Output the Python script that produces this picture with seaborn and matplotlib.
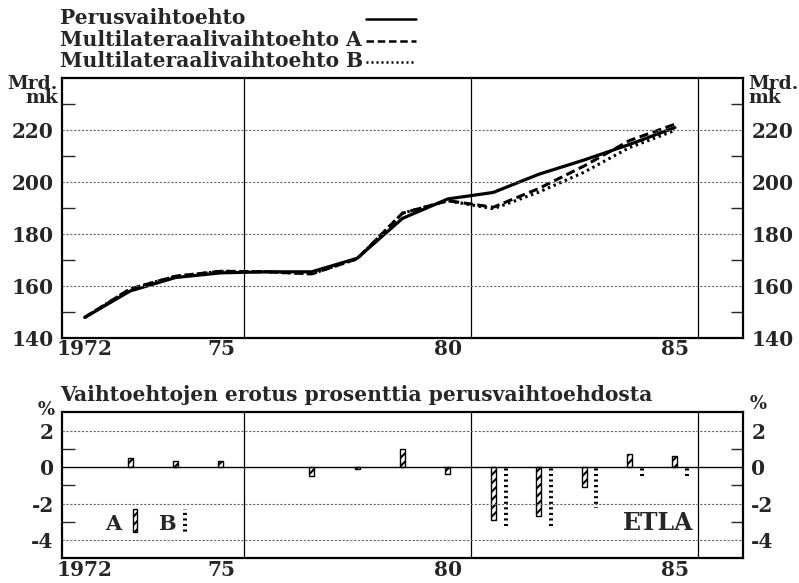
import numpy as np
import pandas as pd
import matplotlib
matplotlib.use('Agg')
import matplotlib.pyplot as plt
from matplotlib.patches import Rectangle
import seaborn as sns

# Arvot luettu kuvasta (Mrd. mk)
vuodet = [1972, 1973, 1974, 1975, 1976, 1977, 1978, 1979, 1980, 1981, 1982, 1983, 1984, 1985]
perus = [147.8, 158.0, 163.2, 165.0, 165.4, 165.4, 170.6, 186.0, 193.5, 196.0, 203.0, 208.5, 214.5, 221.0]
vaiht_a = [147.8, 158.8, 163.7, 165.6, 165.4, 164.6, 170.4, 188.0, 192.8, 190.3, 197.5, 206.2, 216.0, 222.3]
vaiht_b = [147.8, 158.8, 163.7, 165.6, 165.4, 164.6, 170.4, 188.0, 192.8, 189.7, 196.1, 203.8, 213.3, 219.9]

# Erotus prosenttia perusvaihtoehdosta
ero_a = [np.nan, 0.5, 0.32, 0.35, np.nan, -0.5, -0.1, 1.0, -0.36, -2.9, -2.7, -1.1, 0.69, 0.58]
ero_b = [np.nan] * 9 + [-3.24, -3.4, -2.25, -0.54, -0.5]

x_labels = ['1972', '75', '80', '85']
x_label_pos = [1972, 1975, 1980, 1985]

df = pd.DataFrame({'vuosi': vuodet, 'perus': perus, 'a': vaiht_a, 'b': vaiht_b,
                   'ero_a': ero_a, 'ero_b': ero_b})

sns.set_style('white')
plt.rcParams['font.family'] = ['DejaVu Serif']
plt.rcParams['hatch.linewidth'] = 1.5

fig = plt.figure(figsize=(7.99, 5.83), dpi=100)
W, H = 799, 583
ax1 = fig.add_axes([62 / W, 1 - 337.7 / H, (743 - 62) / W, (337.7 - 78.3) / H])
ax2 = fig.add_axes([62 / W, 1 - 558.3 / H, (743 - 62) / W, (558.3 - 412.3) / H])

# ylempi kuva: viivat
sns.lineplot(data=df, x='vuosi', y='perus', ax=ax1, color='black', lw=2.3)
sns.lineplot(data=df, x='vuosi', y='a', ax=ax1, color='black', lw=2.2, linestyle=(0, (3, 1.5)))
sns.lineplot(data=df, x='vuosi', y='b', ax=ax1, color='black', lw=2.2, linestyle=(0, (0.8, 1.2)))

# alempi kuva: pylväät
ax2.bar(df['vuosi'], df['ero_a'], width=0.11, facecolor='white', edgecolor='black',
        hatch='////', lw=1.0)
ax2.bar(df['vuosi'] + 0.27, df['ero_b'], width=0.09, facecolor='white', edgecolor='black',
        hatch='---', lw=0)
ax2.axhline(0, color='black', lw=1.0)

for ax, ylim in ((ax1, (140, 240)), (ax2, (-5, 3))):
    ax.set_xlim(1971.5, 1986.5)
    ax.set_ylim(*ylim)
    ax.set_xlabel('')
    ax.set_ylabel('')
    for s in ax.spines.values():
        s.set_linewidth(1.6)
        s.set_color('black')
    for xv in (1975.5, 1980.5, 1985.5):
        ax.axvline(xv, color='black', lw=0.9)
    ax.set_xticks(x_label_pos)
    ax.set_xticklabels(x_labels, fontsize=14.5, fontweight='bold')
    ax.set_xticks(np.arange(1972.5, 1986, 1.0), minor=True)
    ax.tick_params(axis='x', which='major', length=0, pad=1)
    ax.tick_params(axis='x', which='minor', direction='in', length=13, width=1.0, top=False)
    ax.tick_params(axis='y', which='major', length=0, labelleft=True, labelright=True,
                   pad=6)
    ax.tick_params(axis='y', which='minor', direction='in', length=9, width=1.0,
                   left=True, right=True)

ax1.set_yticks([140, 160, 180, 200, 220])
ax1.set_yticklabels(['140', '160', '180', '200', '220'], fontsize=14.5, fontweight='bold')
ax1.set_yticks([150, 170, 190, 210, 230], minor=True)
for yv in (160, 180, 200, 220):
    ax1.axhline(yv, color='0.4', lw=0.8, ls=(0, (2, 1.5)))

ax2.set_yticks([-4, -2, 0, 2])
ax2.set_yticklabels(['-4', '-2', '0', '2'], fontsize=14.5, fontweight='bold')
ax2.set_yticks([-3, -1, 1], minor=True)
for yv in (-4, -2, 2):
    ax2.axhline(yv, color='0.4', lw=0.8, ls=(0, (2, 1.5)))

# yksiköt
for xp, ha in ((58 / W, 'right'), (748 / W, 'left')):
    fig.text(xp, 1 - 91 / H, 'Mrd.\nmk', ha=ha, va='center', fontsize=13.5,
             fontweight='bold', linespacing=0.75)
fig.text(55 / W, 1 - 410 / H, '%', ha='right', va='center', fontsize=13, fontweight='bold')
fig.text(750 / W, 1 - 404 / H, '%', ha='left', va='center', fontsize=13, fontweight='bold')

# selite
selitteet = [('Perusvaihtoehto', '-', 18),
             ('Multilateraalivaihtoehto A', (0, (3, 1.5)), 40),
             ('Multilateraalivaihtoehto B', (0, (0.8, 1.2)), 61)]
for teksti, tyyli, yp in selitteet:
    fig.text(60 / W, 1 - yp / H, teksti, ha='left', va='center', fontsize=14.6,
             fontweight='bold')
    fig.add_artist(plt.Line2D([366 / W, 416 / W], [1 - (yp + 1) / H, 1 - (yp + 1) / H],
                              color='black', lw=1.8, linestyle=tyyli))

fig.text(60 / W, 1 - 395 / H, 'Vaihtoehtojen erotus prosenttia perusvaihtoehdosta',
         ha='left', va='center', fontsize=14.6, fontweight='bold')

# A/B -merkit
ax2.text(0.075, 0.235, 'A', transform=ax2.transAxes, ha='center', va='center',
         fontsize=15, fontweight='bold')
ax2.add_patch(Rectangle((0.104, 0.18), 0.0065, 0.155, transform=ax2.transAxes,
                        facecolor='white', edgecolor='black', hatch='////', lw=1.0))
ax2.text(0.154, 0.235, 'B', transform=ax2.transAxes, ha='center', va='center',
         fontsize=15, fontweight='bold')
ax2.add_patch(Rectangle((0.177, 0.18), 0.006, 0.155, transform=ax2.transAxes,
                        facecolor='white', edgecolor='black', hatch='---', lw=0))
ax2.text(0.927, 0.24, 'ETLA', transform=ax2.transAxes, ha='right', va='center',
         fontsize=17, fontweight='bold')

fig.savefig('out.png', dpi=100)
